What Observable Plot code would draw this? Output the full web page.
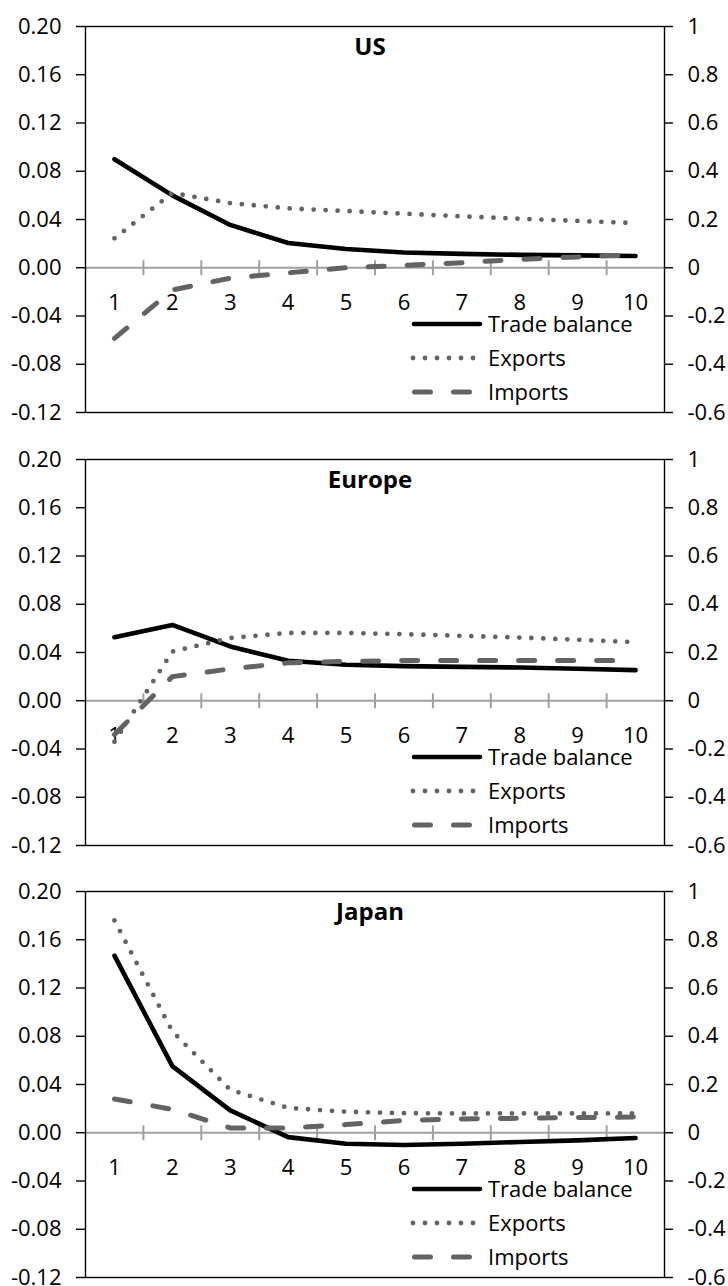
<!DOCTYPE html>
<html>
<head>
<meta charset="utf-8">
<script src="https://cdn.jsdelivr.net/npm/d3@7"></script>
<script src="https://cdn.jsdelivr.net/npm/@observablehq/plot@0.6"></script>
<style>
  html, body { margin: 0; padding: 0; background: #fff; overflow: hidden; }
  #charts svg { display: block; }
</style>
</head>
<body>
<div id="charts"></div>
<script>
// Periods after the shock (horizontal category axis)
const periods = [1, 2, 3, 4, 5, 6, 7, 8, 9, 10];

// Left axis: trade balance; right axis: exports and imports
const leftTicks = [0.20, 0.16, 0.12, 0.08, 0.04, 0.00, -0.04, -0.08, -0.12];
const leftTickLabels = ["0.20", "0.16", "0.12", "0.08", "0.04", "0.00", "-0.04", "-0.08", "-0.12"];
const rightTicks = [1, 0.8, 0.6, 0.4, 0.2, 0, -0.2, -0.4, -0.6];
const rightTickLabels = ["1", "0.8", "0.6", "0.4", "0.2", "0", "-0.2", "-0.4", "-0.6"];

const regions = ["US", "Europe", "Japan"];
const seriesNames = ["Trade balance", "Exports", "Imports"];

// US
const usTradeBalance = [0.090, 0.060, 0.0355, 0.0205, 0.0155, 0.0127, 0.0115, 0.0107, 0.0103, 0.0097];
const usExports = [0.122, 0.310, 0.268, 0.246, 0.235, 0.224, 0.213, 0.203, 0.194, 0.185];
const usImports = [-0.293, -0.092, -0.043, -0.021, 0.000, 0.010, 0.021, 0.035, 0.045, 0.053];

// Europe
const europeTradeBalance = [0.0527, 0.0629, 0.0450, 0.0331, 0.0298, 0.0287, 0.0281, 0.0276, 0.0265, 0.0254];
const europeExports = [-0.170, 0.204, 0.260, 0.281, 0.281, 0.276, 0.269, 0.262, 0.253, 0.243];
const europeImports = [-0.140, 0.100, 0.132, 0.157, 0.163, 0.167, 0.167, 0.167, 0.167, 0.167];

// Japan
const japanTradeBalance = [0.1468, 0.0552, 0.0185, -0.0036, -0.0091, -0.0102, -0.0091, -0.0077, -0.0063, -0.0044];
const japanExports = [0.880, 0.420, 0.178, 0.103, 0.087, 0.081, 0.080, 0.080, 0.080, 0.080];
const japanImports = [0.140, 0.097, 0.020, 0.020, 0.034, 0.051, 0.057, 0.060, 0.063, 0.065];

const panels = [
  {name: regions[0], trade: usTradeBalance, exports: usExports, imports: usImports},
  {name: regions[1], trade: europeTradeBalance, exports: europeExports, imports: europeImports},
  {name: regions[2], trade: japanTradeBalance, exports: japanExports, imports: japanImports}
];

// Right-axis values are drawn on the left scale divided by this ratio
const ratio = rightTicks[0] / leftTicks[0];

const FONT = "'Open Sans', 'DejaVu Sans', sans-serif";
const FS = 22;
const TITLE_FS = 24;
const GRAY = "#636363";
const styles = {
  trade:   {stroke: "#000", strokeWidth: 4.6, strokeLinecap: "round", strokeLinejoin: "round"},
  exports: {stroke: GRAY, strokeWidth: 4.8, strokeDasharray: "0 12", strokeLinecap: "round", strokeLinejoin: "round"},
  imports: {stroke: GRAY, strokeWidth: 5, strokeDasharray: "16 23", strokeLinecap: "round", strokeLinejoin: "round"}
};

// Short vertical cross ticks on the zero line, between categories
const crossTick = {draw(context) { context.moveTo(0, -7.5); context.lineTo(0, 7.5); }};
const boundaries = periods.slice(1).map(p => p - 0.5);

const heights = [433, 432, 421];
const bottoms = [21, 20, 9];

const container = document.getElementById("charts");

panels.forEach((p, k) => {
  const rows = periods.map((t, i) => ({t, trade: p.trade[i], exports: p.exports[i], imports: p.imports[i]}));
  const chart = Plot.plot({
    width: 728,
    height: heights[k],
    marginLeft: 85,
    marginRight: 64,
    marginTop: 26,
    marginBottom: bottoms[k],
    style: {fontFamily: FONT, fontSize: FS + "px", color: "#000", background: "#fff", overflow: "visible"},
    x: {domain: [0.5, 10.5], axis: null},
    y: {domain: [leftTicks[leftTicks.length - 1], leftTicks[0]], axis: null},
    marks: [
      Plot.ruleY([0], {stroke: "#a0a0a0", strokeWidth: 2}),
      Plot.dot(boundaries, {x: d => d, y: 0, symbol: crossTick, r: 7.5, stroke: "#a0a0a0", strokeWidth: 2, fill: "none"}),
      Plot.frame({stroke: "#000", strokeWidth: 1.4}),
      Plot.axisY(leftTicks, {
        anchor: "left", label: null, tickSize: 9, tickPadding: 15, strokeWidth: 1.4,
        fontSize: FS, tickFormat: d => leftTickLabels[leftTicks.indexOf(d)]
      }),
      Plot.axisY(rightTicks.map(v => v / ratio), {
        anchor: "right", label: null, tickSize: 8, tickPadding: 15, strokeWidth: 1.4,
        fontSize: FS, tickFormat: d => rightTickLabels[rightTicks.findIndex(v => Math.abs(v / ratio - d) < 1e-9)]
      }),
      Plot.text(periods, {x: d => d, y: 0, dy: 35.5, text: d => String(d), fontSize: FS, fill: "#000"}),
      Plot.line(rows, {x: "t", y: "trade", ...styles.trade}),
      Plot.line(rows, {x: "t", y: d => d.exports / ratio, ...styles.exports}),
      Plot.line(rows, {x: "t", y: d => d.imports / ratio, ...styles.imports}),
      Plot.text([p.name], {frameAnchor: "top", dy: 21, dx: -5, lineAnchor: "middle", fontWeight: "bold", fontSize: TITLE_FS, fill: "#000"})
    ]
  });

  // Legend inside the plot area, lower right
  const svg = d3.select(chart);
  const legend = svg.append("g")
    .attr("font-family", FONT)
    .attr("font-size", FS)
    .attr("text-anchor", "start");
  const keys = ["trade", "exports", "imports"];
  const rowY = [324, 358, 392];
  const sampleX = {trade: [414, 480], exports: [413, 474], imports: [414.5, 470]};
  keys.forEach((key, j) => {
    const s = styles[key];
    legend.append("line")
      .attr("x1", sampleX[key][0]).attr("x2", sampleX[key][1])
      .attr("y1", rowY[j]).attr("y2", rowY[j])
      .attr("stroke", s.stroke).attr("stroke-width", s.strokeWidth)
      .attr("stroke-linecap", "round")
      .attr("stroke-dasharray", s.strokeDasharray || null);
    legend.append("text")
      .attr("x", 488).attr("y", rowY[j]).attr("dy", "0.35em")
      .attr("text-anchor", "start")
      .attr("fill", "#000")
      .text(seriesNames[j]);
  });

  container.appendChild(chart);
});
</script>
</body>
</html>
